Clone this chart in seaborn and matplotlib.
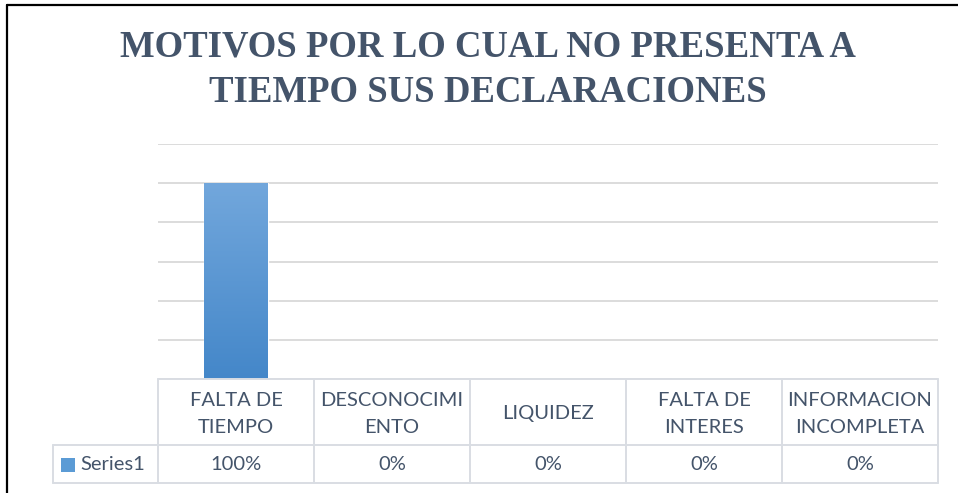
import matplotlib
matplotlib.use("Agg")
import matplotlib.pyplot as plt
import matplotlib.colors as mcolors
import numpy as np
import pandas as pd
import seaborn as sns

# ---- data ----
categories = ["FALTA DE\nTIEMPO", "DESCONOCIMI\nENTO", "LIQUIDEZ", "FALTA DE\nINTERES", "INFORMACION\nINCOMPLETA"]
values = [1.00, 0.00, 0.00, 0.00, 0.00]
value_labels = ["100%", "0%", "0%", "0%", "0%"]
series_name = "Series1"
title = "MOTIVOS POR LO CUAL NO PRESENTA A\nTIEMPO SUS DECLARACIONES"
y_ticks = [0.0, 0.2, 0.4, 0.6, 0.8, 1.0, 1.2]

sns.set_theme(style="white")
plt.rcParams["font.family"] = ["Lato", "DejaVu Sans"]

W, H = 958, 493
fig = plt.figure(figsize=(W / 100, H / 100), dpi=100)
ax = fig.add_axes([158 / W, 1 - 379 / H, (938 - 158) / W, (379 - 144) / H])

df = pd.DataFrame({"cat": categories, "val": values})
sns.barplot(data=df, x="cat", y="val", ax=ax, color="#5b9bd5", width=0.41,
            saturation=1, errorbar=None)

ax.set_ylim(y_ticks[0], y_ticks[-1])
ax.set_xlim(-0.5, len(categories) - 0.5)
ax.set_yticks(y_ticks)
ax.yaxis.grid(True, color="#d9d9d9", linewidth=1.3)
ax.set_axisbelow(True)
ax.set_xticks([])
ax.set_yticklabels([])
ax.tick_params(left=False, bottom=False)
ax.set_xlabel("")
ax.set_ylabel("")
for s in ax.spines.values():
    s.set_visible(False)

# gradient fill on bars
grad = np.linspace(0, 1, 256).reshape(-1, 1)
cmap = mcolors.LinearSegmentedColormap.from_list("g", ["#4487c9", "#72a7dc"])
for p in ax.patches:
    x0, y0 = p.get_x(), p.get_y()
    w, h = p.get_width(), p.get_height()
    if h <= 0:
        continue
    im = ax.imshow(grad, cmap=cmap, aspect="auto", origin="lower",
                   extent=[x0, x0 + w, y0, y0 + h], zorder=p.get_zorder() + 0.1)
    im.set_clip_path(p)
ax.set_xlim(-0.5, len(categories) - 0.5)
ax.set_ylim(y_ticks[0], y_ticks[-1])

# ---- data table ----
tr = ax.get_xaxis_transform()
axh = 379 - 144
r1 = -(445 - 379) / axh
r2 = -(483 - 379) / axh
lc = "#d9dde3"
lw = 1.4
n = len(categories)
txtc = "#44546a"
fs = 14.5
# horizontal lines
ax.plot([-0.5, n - 0.5], [0, 0], transform=tr, color=lc, lw=lw, clip_on=False)
ax.plot([-1.173, n - 0.5], [r1, r1], transform=tr, color=lc, lw=lw, clip_on=False)
ax.plot([-1.173, n - 0.5], [r2, r2], transform=tr, color=lc, lw=lw, clip_on=False)
# vertical lines
for i in range(n + 1):
    ax.plot([i - 0.5, i - 0.5], [0, r2], transform=tr, color=lc, lw=lw, clip_on=False)
ax.plot([-1.173, -1.173], [r1, r2], transform=tr, color=lc, lw=lw, clip_on=False)

for i, (c, v) in enumerate(zip(categories, value_labels)):
    ax.text(i, -(414 - 379) / axh, c, transform=tr, ha="center", va="center", fontsize=fs,
            color=txtc, linespacing=1.75, clip_on=False)
    ax.text(i, -(465 - 379) / axh, v, transform=tr, ha="center", va="center", fontsize=fs,
            color=txtc, clip_on=False)

# legend key
sq_h = 14 / axh
ym = -(465 - 379) / axh
ax.add_patch(plt.Rectangle((-1.122, ym - sq_h / 2), 0.09, sq_h, transform=tr,
                           facecolor="#5b9bd5", edgecolor="none", clip_on=False))
ax.text(-1.0, ym, series_name, transform=tr, ha="left", va="center", fontsize=fs,
        color=txtc, clip_on=False)

# title
fig.text(488 / W, 1 - 70 / H, title, ha="center", va="center",
         fontsize=26.5, fontweight="bold", family=["Liberation Serif", "DejaVu Serif"],
         color="#44546a", linespacing=1.38)

# outer border (top and left visible)
fig.add_artist(plt.Line2D([7 / W, 7 / W], [0, 1 - 5 / H], transform=fig.transFigure,
                          color="black", lw=1.6))
fig.add_artist(plt.Line2D([7 / W, 1], [1 - 5 / H, 1 - 5 / H], transform=fig.transFigure,
                          color="black", lw=1.6))

fig.savefig("out.png", dpi=100)
